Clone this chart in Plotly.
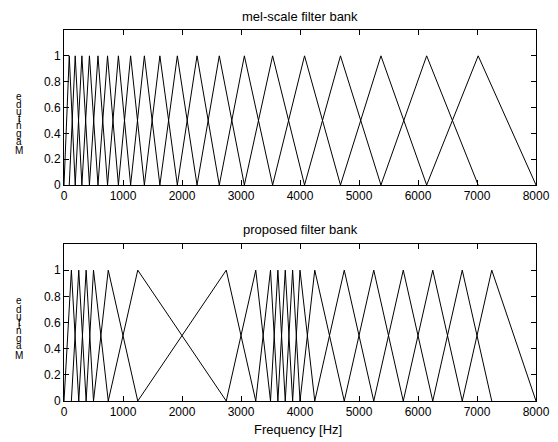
import plotly.graph_objects as go

# ---- data ----
freq_max = 8000
mel_centers = [89, 190, 303, 431, 576, 738, 922, 1129, 1362, 1625,
               1921, 2255, 2632, 3057, 3536, 4077, 4686, 5372, 6147, 7020]
proposed_centers = [125, 250, 375, 500, 750, 1250, 2750, 3250, 3500, 3625,
                    3750, 3875, 4000, 4250, 4750, 5250, 5750, 6250, 6750, 7250]
x_ticks = [0, 1000, 2000, 3000, 4000, 5000, 6000, 7000, 8000]
y_ticks = [0, 0.2, 0.4, 0.6, 0.8, 1]
y_ticktext = ["0", "0.2", "0.4", "0.6", "0.8", "1"]
titles = ["mel-scale filter bank", "proposed filter bank"]
ylabel = "Magnitude"
xlabel = "Frequency [Hz]"


def triangles(centers):
    edges = [0] + list(centers) + [freq_max]
    xs, ys = [], []
    for i in range(1, len(edges) - 1):
        xs += [edges[i - 1], edges[i], edges[i + 1], None]
        ys += [0, 1, 0, None]
    return xs, ys


OFF = 8  # page body margin
W, H = 558 - OFF, 442 - OFF
# target pixel positions in the 558x442 window
BOX_L, BOX_R = 64, 536
ML = BOX_L - OFF
MR = 558 - BOX_R
MT = 30 - OFF
MB = 442 - 401
PH = H - MT - MB
PW = W - ML - MR


def py(p):  # window pixel y -> paper y
    return (442 - MB - p) / PH


def px(p):
    return (p - BOX_L) / PW


FONT = "Arial, Liberation Sans, sans-serif"
fig = go.Figure()
mx, my = triangles(mel_centers)
fig.add_trace(go.Scatter(x=mx, y=my, mode="lines", line=dict(color="black", width=1),
                         xaxis="x", yaxis="y", showlegend=False, hoverinfo="skip"))
pxs, pys = triangles(proposed_centers)
fig.add_trace(go.Scatter(x=pxs, y=pys, mode="lines", line=dict(color="black", width=1),
                         xaxis="x2", yaxis="y2", showlegend=False, hoverinfo="skip"))

axcommon = dict(showline=True, linecolor="black", linewidth=1, mirror="ticks",
                ticks="inside", ticklen=5, tickcolor="black", tickwidth=1,
                showgrid=False, zeroline=False, automargin=False,
                tickfont=dict(family=FONT, size=12, color="black"))

top_dom = [py(185), py(30)]
bot_dom = [py(401), py(244)]

fig.update_layout(
    width=W, height=H,
    margin=dict(l=ML, r=MR, t=MT, b=MB),
    paper_bgcolor="white", plot_bgcolor="white",
    xaxis=dict(domain=[0, 1], anchor="y", range=[0, freq_max], tickvals=x_ticks, **axcommon),
    yaxis=dict(domain=top_dom, anchor="x", range=[0, 1.2], tickvals=y_ticks,
               ticktext=y_ticktext, **axcommon),
    xaxis2=dict(domain=[0, 1], anchor="y2", range=[0, freq_max], tickvals=x_ticks, **axcommon),
    yaxis2=dict(domain=bot_dom, anchor="x2", range=[0, 1.2], tickvals=y_ticks,
                ticktext=y_ticktext, **axcommon),
)

ann = []


def label(text, x, y, size):
    ann.append(dict(text=text, x=px(x), y=py(y), xref="paper", yref="paper",
                    showarrow=False, xanchor="center", yanchor="middle", borderpad=0,
                    font=dict(family=FONT, size=size, color="black")))


label(titles[0], 300, 16.5, 13)
label(titles[1], 300, 229, 13)
label(xlabel, 298, 430, 13)

# stacked (unrotated) letters of the y label, bottom to top
letter_offsets = [0, 9.5, 17, 24.5, 29.5, 32.5, 38.5, 45.5, 54.5]
for base in (150.5, 355):
    for ch, off in zip(ylabel, letter_offsets):
        label(ch, 19, base - off, 10)

fig.update_layout(annotations=ann)
fig.write_html("out.html")
